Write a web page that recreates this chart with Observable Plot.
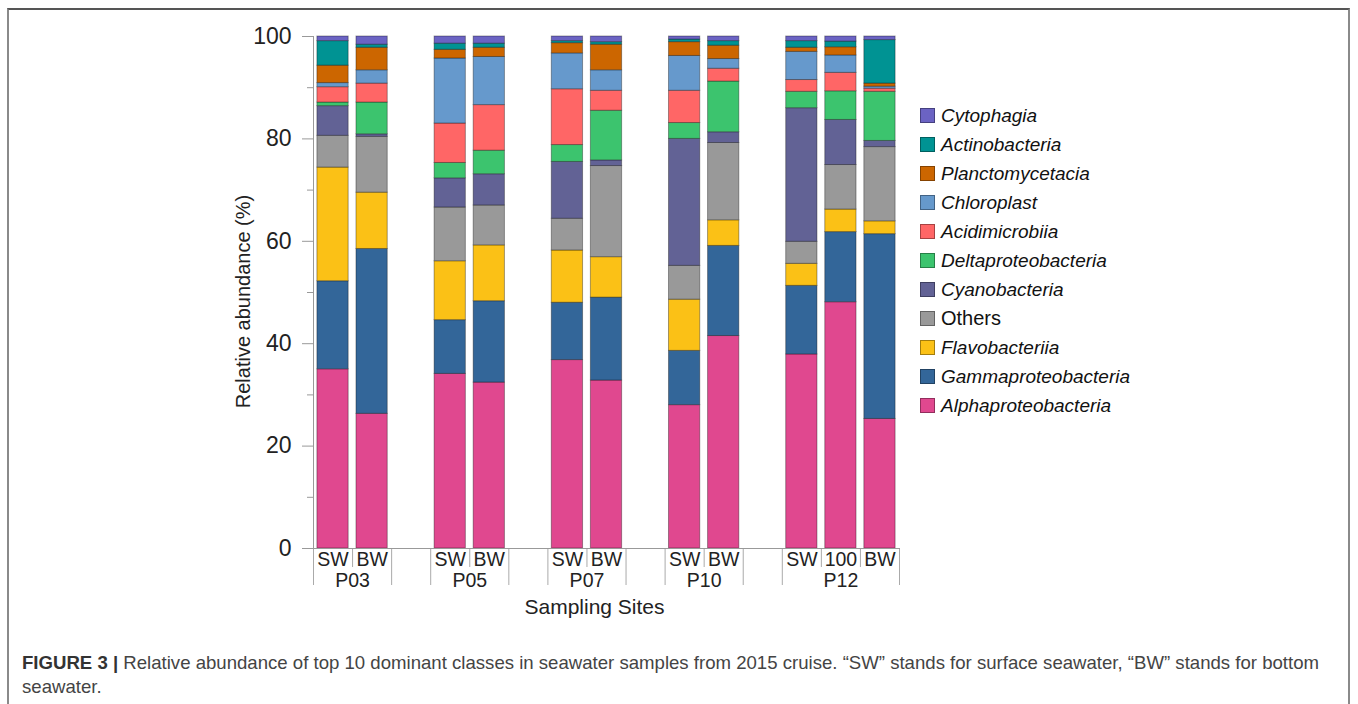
<!DOCTYPE html>
<html>
<head>
<meta charset="utf-8">
<script src="https://cdn.jsdelivr.net/npm/d3@7"></script>
<script src="https://cdn.jsdelivr.net/npm/@observablehq/plot@0.6"></script>
<style>
  body { margin: 0; background: #fff; font-family: "Liberation Sans", Arial, sans-serif; }
  #wrap { position: relative; width: 1358px; height: 704px; overflow: hidden; }
  #frame { position: absolute; left: 7px; top: 8px; width: 1343px; height: 740px; border: 2px solid #8a8a8a; border-top-color: #555; box-sizing: border-box; }
  #chart { position: absolute; left: 0; top: 0; }
  #legend { position: absolute; left: 920px; top: 101px; }
  .item { display: flex; align-items: center; height: 29px; font-style: italic; font-size: 19px; color: #111; }
  .item.plain { font-style: normal; font-size: 20px; }
  .sw { width: 15px; height: 15px; margin-right: 6px; border: 1px solid rgba(0,0,0,0.35); box-sizing: border-box; }
  #caption { position: absolute; left: 22px; top: 651px; font-size: 18.6px; line-height: 24px; color: #444; white-space: nowrap; }
  #caption b { color: #333; }
</style>
</head>
<body>
<div id="wrap">
  <div id="chart"></div>
  <div id="legend"></div>
  <div id="caption"><b>FIGURE 3 |</b> Relative abundance of top 10 dominant classes in seawater samples from 2015 cruise. “SW” stands for surface seawater, “BW” stands for bottom<br>seawater.</div>
  <div id="frame"></div>
</div>
<script>
// ---------- data ----------
const sites = ["P03", "P05", "P07", "P10", "P12"];
const sampleSite = ["P03","P03","P05","P05","P07","P07","P10","P10","P12","P12","P12"];
const sampleType = ["SW","BW","SW","BW","SW","BW","SW","BW","SW","100","BW"];

// stacking order, bottom to top
const classes = ["Alphaproteobacteria","Gammaproteobacteria","Flavobacteriia","Others","Cyanobacteria",
  "Deltaproteobacteria","Acidimicrobiia","Chloroplast","Planctomycetacia","Actinobacteria","Cytophagia"];
const classColors = ["#e0488f","#336699","#fbc116","#999999","#626295",
  "#3cc46e","#ff6666","#6699cc","#cc6600","#009393","#6b63c3"];

const alphaproteobacteria = [35.0, 26.3, 34.1, 32.4, 36.8, 32.8, 28.0, 41.5, 37.9, 48.1, 25.3];
const gammaproteobacteria = [17.2, 32.2, 10.5, 15.9, 11.2, 16.2, 10.6, 17.6, 13.4, 13.7, 36.1];
const flavobacteriia      = [22.2, 11.0, 11.5, 10.9, 10.2,  7.9, 10.0,  5.0,  4.3,  4.4,  2.5];
const others              = [ 6.2, 10.9, 10.5,  7.8,  6.2, 17.8,  6.6, 15.1,  4.3,  8.7, 14.5];
const cyanobacteria       = [ 5.8,  0.5,  5.7,  6.1, 11.1,  1.1, 24.8,  2.1, 26.1,  8.8,  1.2];
const deltaproteobacteria = [ 0.7,  6.2,  3.0,  4.6,  3.3,  9.7,  3.1,  9.9,  3.2,  5.6,  9.6];
const acidimicrobiia      = [ 3.0,  3.7,  7.7,  8.9, 10.9,  3.9,  6.3,  2.5,  2.3,  3.6,  0.6];
const chloroplast         = [ 0.8,  2.6, 12.7,  9.4,  7.0,  4.0,  6.8,  1.9,  5.5,  3.4,  0.4];
const planctomycetacia    = [ 3.4,  4.4,  1.7,  1.8,  2.0,  5.0,  2.7,  2.6,  0.8,  1.6,  0.6];
const actinobacteria      = [ 4.8,  0.6,  1.2,  0.8,  0.4,  0.5,  0.5,  0.9,  1.3,  1.1,  8.5];
const cytophagia          = [ 0.9,  1.6,  1.4,  1.4,  0.9,  1.1,  0.6,  0.9,  0.9,  1.0,  0.7];

const seriesValues = [alphaproteobacteria, gammaproteobacteria, flavobacteriia, others, cyanobacteria,
  deltaproteobacteria, acidimicrobiia, chloroplast, planctomycetacia, actinobacteria, cytophagia];

// legend order (top to bottom)
const legendOrder = ["Cytophagia","Actinobacteria","Planctomycetacia","Chloroplast","Acidimicrobiia",
  "Deltaproteobacteria","Cyanobacteria","Others","Flavobacteriia","Gammaproteobacteria","Alphaproteobacteria"];

const yTicks = [0, 20, 40, 60, 80, 100];
const yMinorTicks = [10, 30, 50, 70, 90];

// ---------- derived layout (slot index per sample; one empty slot between sites) ----------
const slotOf = sampleSite.map((s, i) => {
  const si = sites.indexOf(s);
  const pos = sampleSite.slice(0, i).filter(v => v === s).length;
  return si * 3 + pos;
});
const rows = [];
sampleSite.forEach((s, i) => {
  let cum = 0;
  classes.forEach((c, k) => {
    const v = seriesValues[k][i];
    rows.push({cls: c, site: s, type: sampleType[i], slot: slotOf[i], y1: cum, y2: cum + v});
    cum += v;
  });
});
const siteSlots = sites.map(s => slotOf.filter((_, i) => sampleSite[i] === s));
const groupEdges = siteSlots.flatMap(sl => [d3.min(sl) - 0.5, d3.max(sl) + 0.5]);
const innerEdges = siteSlots.flatMap(sl => sl.slice(0, -1).map(v => v + 0.5));
const groupCenters = siteSlots.map(sl => d3.mean(sl));
const typeBySlot = new Map(slotOf.map((s, i) => [s, sampleType[i]]));
const siteByCenter = new Map(groupCenters.map((c, i) => [c, sites[i]]));

const chart = Plot.plot({
  width: 1358,
  height: 640,
  marginLeft: 313,
  marginRight: 459,
  marginTop: 36,
  marginBottom: 92,
  style: {fontFamily: "'Liberation Sans', Arial, sans-serif", fontSize: "20px", color: "#222", background: "transparent"},
  x: {domain: [-0.5, 14.5], axis: null},
  y: {domain: [0, 100], axis: null},
  color: {domain: classes, range: classColors},
  marks: [
    Plot.axisY({ticks: yTicks, tickSize: 11, tickPadding: 11, stroke: "#999", fill: "#222", fontSize: 23, label: null}),
    Plot.axisY({ticks: yMinorTicks, tickSize: 6, tickFormat: () => "", stroke: "#999", label: null}),
    Plot.axisX({ticks: groupEdges, tickSize: 37, tickFormat: () => "", stroke: "#aaa", label: null}),
    Plot.axisX({ticks: innerEdges, tickSize: 19, tickFormat: () => "", stroke: "#aaa", label: null}),
    Plot.axisX({ticks: slotOf, tickSize: 0, tickPadding: 3.5, tickFormat: d => typeBySlot.get(d), fill: "#222", fontSize: 19.5, label: null}),
    Plot.axisX({ticks: groupCenters, tickSize: 0, tickPadding: 25, tickFormat: d => siteByCenter.get(d), fill: "#222", fontSize: 19.5, label: null}),
    Plot.rect(rows, {
      x1: d => d.slot - 0.4, x2: d => d.slot + 0.4, y1: "y1", y2: "y2",
      fill: "cls", stroke: "#000", strokeOpacity: 0.35, strokeWidth: 1
    }),
    Plot.frame({anchor: "left", stroke: "#999"}),
    Plot.frame({anchor: "bottom", stroke: "#999"}),
    Plot.text(["Sampling Sites"], {frameAnchor: "bottom", dy: 65, dx: -12, fill: "#222", fontSize: 21}),
    Plot.text(["Relative abundance (%)"], {frameAnchor: "left", textAnchor: "middle", rotate: -90, dx: -70, dy: 9, fill: "#222", fontSize: 20})
  ]
});
document.getElementById("chart").appendChild(chart);

// legend
const legend = document.getElementById("legend");
legendOrder.forEach(name => {
  const item = document.createElement("div");
  item.className = "item" + (name === "Others" ? " plain" : "");
  const sw = document.createElement("span");
  sw.className = "sw";
  sw.style.background = classColors[classes.indexOf(name)];
  const t = document.createElement("span");
  t.textContent = name;
  item.appendChild(sw);
  item.appendChild(t);
  legend.appendChild(item);
});
</script>
</body>
</html>
